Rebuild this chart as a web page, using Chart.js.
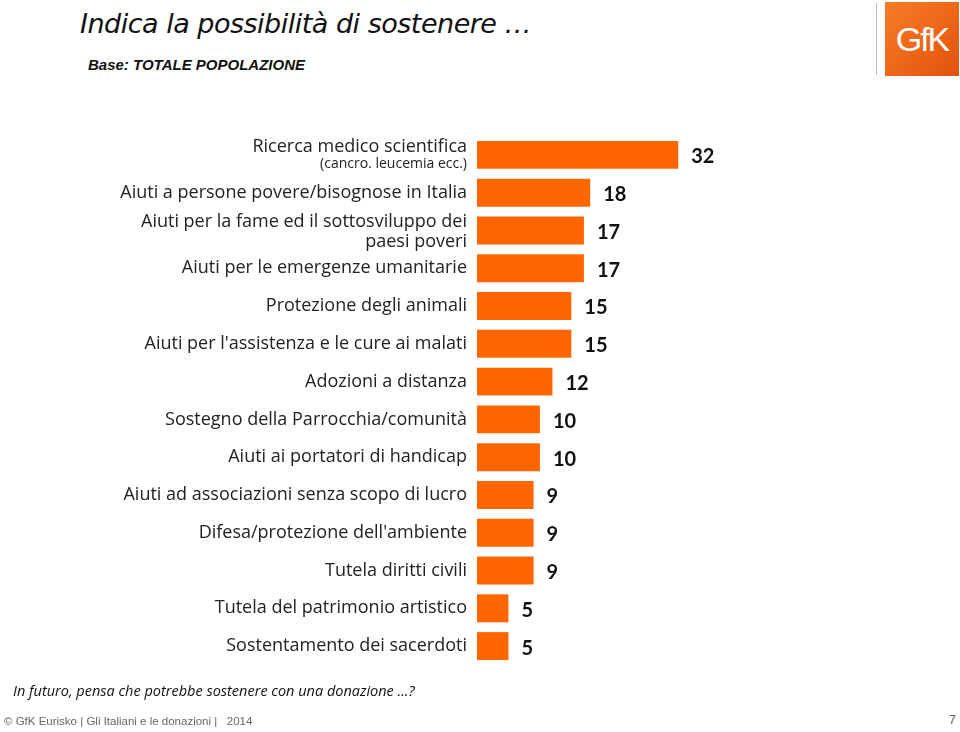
<!DOCTYPE html>
<html>
<head>
<meta charset="utf-8">
<script src="https://cdn.jsdelivr.net/npm/chart.js@4.4.1/dist/chart.umd.min.js"></script>
<style>
  html, body { margin: 0; padding: 0; background: #fff; }
  #wrap { position: relative; width: 960px; height: 732px; overflow: hidden; font-family: "Open Sans", sans-serif; }
  #chart { position: absolute; left: 0; top: 0; }
  .title { position: absolute; left: 80px; top: 8px; font-size: 27px; color: #111; font-style: italic; font-family: "DejaVu Sans", sans-serif; font-weight: 300; letter-spacing: -0.5px; }
  .base { position: absolute; left: 88px; top: 56px; font-size: 15px; font-weight: bold; font-style: italic; color: #111; font-family: "Liberation Sans", sans-serif; }
  .logo-line { position: absolute; left: 876px; top: 3px; width: 1px; height: 72px; background: #bbb; }
  .logo { position: absolute; left: 885px; top: 2px; width: 74px; height: 74px; background: linear-gradient(135deg, #f57c2a 0%, #ef6a1a 45%, #e0520c 100%); color: #fff; font-family: "Liberation Sans", sans-serif; font-size: 34px; line-height: 74px; text-align: center; letter-spacing: -2px; }
  .question { position: absolute; left: 13px; top: 681px; font-size: 14.5px; font-style: italic; color: #111; }
  .footer { position: absolute; left: 4px; top: 715px; font-size: 11.5px; color: #666; font-family: "Liberation Sans", sans-serif; }
  .page { position: absolute; right: 4px; top: 712px; font-size: 13px; color: #666; font-family: "Liberation Sans", sans-serif; }
</style>
</head>
<body>
<div id="wrap">
  <div class="title">Indica la possibilità di sostenere …</div>
  <div class="base">Base: TOTALE POPOLAZIONE</div>
  <div class="logo-line"></div>
  <div class="logo">GfK</div>
  <canvas id="chart" width="960" height="732"></canvas>
  <div class="question">In futuro, pensa che potrebbe sostenere con una donazione …?</div>
  <div class="footer">© GfK Eurisko | Gli Italiani e le donazioni |&nbsp;&nbsp; 2014</div>
  <div class="page">7</div>
</div>
<script>
// categories (line arrays; the second line of the first one is a smaller note)
const categories = [
    ['Ricerca medico scientifica', '(cancro. leucemia ecc.)'],
    ['Aiuti a persone povere/bisognose in Italia'],
    ['Aiuti per la fame ed il sottosviluppo dei', 'paesi poveri'],
    ['Aiuti per le emergenze umanitarie'],
    ['Protezione degli animali'],
    ["Aiuti per l'assistenza e le cure ai malati"],
    ['Adozioni a distanza'],
    ['Sostegno della Parrocchia/comunità'],
    ['Aiuti ai portatori di handicap'],
    ['Aiuti ad associazioni senza scopo di lucro'],
    ['Difesa/protezione dell\'ambiente'],
    ['Tutela diritti civili'],
    ['Tutela del patrimonio artistico'],
    ['Sostentamento dei sacerdoti']
];
const values = [32, 18, 17, 17, 15, 15, 12, 10, 10, 9, 9, 9, 5, 5];

const orange = '#ff6600';

// category labels on the left + value labels after each bar
const labelPlugin = {
    id: 'labels',
    afterDatasetsDraw(chart) {
        const ctx = chart.ctx;
        const yScale = chart.scales.y;
        const meta = chart.getDatasetMeta(0);
        const right = chart.chartArea.left - 10;
        ctx.save();
        ctx.fillStyle = '#222';
        ctx.textAlign = 'right';
        ctx.textBaseline = 'middle';
        categories.forEach((lines, i) => {
            const y = yScale.getPixelForValue(i);
            ctx.font = '18px "Open Sans", sans-serif';
            if (lines.length === 1) {
                ctx.fillText(lines[0], right, y);
            } else if (i === 0) {
                ctx.fillText(lines[0], right, y - 8);
                ctx.font = '14px "Open Sans", sans-serif';
                ctx.fillText(lines[1], right, y + 9);
            } else {
                ctx.fillText(lines[0], right, y - 9);
                ctx.fillText(lines[1], right, y + 11);
            }
        });
        ctx.textAlign = 'left';
        ctx.font = 'bold 20px Lato, sans-serif';
        ctx.fillStyle = '#111';
        meta.data.forEach((bar, i) => {
            ctx.fillText(values[i], bar.x + 13, bar.y + 2);
        });
        ctx.restore();
    }
};

new Chart(document.getElementById('chart').getContext('2d'), {
    type: 'bar',
    data: {
        labels: categories.map(c => c.join(' ')),
        datasets: [{
            data: values,
            backgroundColor: orange,
            borderWidth: 0,
            barPercentage: 0.74,
            categoryPercentage: 1
        }]
    },
    options: {
        indexAxis: 'y',
        responsive: false,
        animation: false,
        layout: { padding: { left: 477, right: 200, top: 136, bottom: 67 } },
        plugins: {
            legend: { display: false },
            tooltip: { enabled: false }
        },
        scales: {
            x: { display: false, min: 0, max: 45 },
            y: { display: false }
        }
    },
    plugins: [labelPlugin]
});
</script>
</body>
</html>
